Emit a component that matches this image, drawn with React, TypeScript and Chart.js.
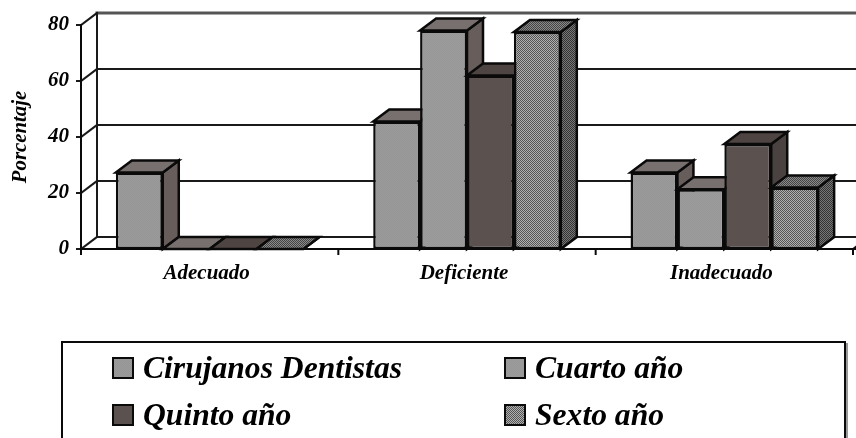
import React, { useEffect, useRef } from "react";
import { Chart, registerables } from "chart.js";

Chart.register(...registerables);

const categories = ["Adecuado", "Deficiente", "Inadecuado"];
const seriesNames = ["Cirujanos Dentistas", "Cuarto año", "Quinto año", "Sexto año"];
const cirujanos = [27.3, 45.5, 27.3];
const cuarto = [0, 78, 21.3];
const quinto = [0, 62, 37.5];
const sexto = [0, 77.5, 22];
const seriesValues = [cirujanos, cuarto, quinto, sexto];
const yTicks = [0, 20, 40, 60, 80];
const yTitle = "Porcentaje";

const FONT = '"Liberation Serif"';
const DX = 16;
const DY = -12;
const INK = "#0a0a0a";

// colour pairs of the dithered faces: front, top, side
const faces = [
  { front: ["#9b9b9b", "#959595"], top: ["#78706e", "#78706e"], side: ["#675d5b", "#675d5b"] },
  { front: ["#9c9c9c", "#979797"], top: ["#78706e", "#78706e"], side: ["#675d5b", "#675d5b"] },
  { front: ["#5b514e", "#5b514e"], top: ["#4e4543", "#4e4543"], side: ["#4a4240", "#4a4240"] },
  { front: ["#b0b0b0", "#555555"], top: ["#8a8a8a", "#444444"], side: ["#777777", "#333333"] },
];

function dither(pair: string[]): CanvasPattern | string {
  if (pair[0] === pair[1]) return pair[0];
  const c = document.createElement("canvas");
  c.width = 2;
  c.height = 2;
  const g = c.getContext("2d")!;
  g.fillStyle = pair[0];
  g.fillRect(0, 0, 2, 2);
  g.fillStyle = pair[1];
  g.fillRect(0, 0, 1, 1);
  g.fillRect(1, 1, 1, 1);
  return g.createPattern(c, "repeat")!;
}

const poly = (ctx: CanvasRenderingContext2D, pts: number[][], fill: any) => {
  ctx.beginPath();
  pts.forEach((p, i) => (i ? ctx.lineTo(p[0], p[1]) : ctx.moveTo(p[0], p[1])));
  ctx.closePath();
  ctx.fillStyle = fill;
  ctx.fill();
  ctx.stroke();
};

const wallPlugin = {
  id: "wall3d",
  beforeDatasetsDraw(chart: any) {
    const { ctx, scales, width } = chart;
    const x = scales.x;
    const y = scales.y;
    const left = x.left;
    const right = x.right;
    const base = y.getPixelForValue(0);
    ctx.save();
    ctx.strokeStyle = "#1a1a1a";
    ctx.lineWidth = 2;
    ctx.lineCap = "square";
    yTicks.forEach((v) => {
      const py = y.getPixelForValue(v);
      ctx.strokeStyle = v === 80 ? "#555555" : "#1a1a1a";
      ctx.lineWidth = v === 80 ? 3 : 2;
      ctx.beginPath();
      ctx.moveTo(left + DX, py + DY);
      ctx.lineTo(width + 2, py + DY);
      ctx.stroke();
      ctx.strokeStyle = "#1a1a1a";
      ctx.lineWidth = 2;
      ctx.beginPath();
      ctx.moveTo(left, py);
      ctx.lineTo(left + DX, py + DY);
      ctx.stroke();
      ctx.beginPath();
      ctx.moveTo(left - 4, py);
      ctx.lineTo(left, py);
      ctx.stroke();
    });
    ctx.beginPath();
    ctx.moveTo(left + DX, y.getPixelForValue(80) + DY);
    ctx.lineTo(left + DX, base + DY);
    ctx.stroke();
    ctx.strokeStyle = INK;
    ctx.beginPath();
    ctx.moveTo(left, y.getPixelForValue(80));
    ctx.lineTo(left, base + 5);
    ctx.stroke();
    ctx.beginPath();
    ctx.moveTo(left, base);
    ctx.lineTo(width + 2, base);
    ctx.stroke();
    const step = (right - left) / categories.length;
    categories.forEach((_, i) => {
      const tx = left + step * (i + 1);
      ctx.beginPath();
      ctx.moveTo(tx, base);
      ctx.lineTo(tx, base + 5);
      ctx.stroke();
    });
    ctx.beginPath();
    ctx.moveTo(right, base);
    ctx.lineTo(right + DX, base + DY);
    ctx.stroke();
    ctx.restore();
  },
  // the library's own painting runs right to left; the box faces need left to right
  beforeDatasetDraw() {
    return false;
  },
  afterDatasetsDraw(chart: any) {
    const { ctx } = chart;
    seriesValues.forEach((_, i) => {
      const meta = chart.getDatasetMeta(i);
      const top = dither(faces[i].top);
      const side = dither(faces[i].side);
      meta.data.forEach((bar: any) => {
        const half = bar.width / 2;
        const l = bar.x - half;
        const r = bar.x + half;
        const t = bar.y;
        const b = bar.base;
        ctx.save();
        ctx.strokeStyle = INK;
        ctx.lineWidth = 2.5;
        ctx.lineJoin = "miter";
        poly(ctx, [[r, t], [r + DX, t + DY], [r + DX, b + DY], [r, b]], side);
        poly(ctx, [[l, t], [l + DX, t + DY], [r + DX, t + DY], [r, t]], top);
        ctx.restore();
        bar.draw(ctx);
      });
    });
  },
  afterDraw(chart: any) {
    const { ctx } = chart;
    ctx.save();
    // legend frame, running off the bottom of the picture
    ctx.strokeStyle = INK;
    ctx.lineWidth = 2;
    ctx.beginPath();
    ctx.moveTo(62, 440);
    ctx.lineTo(62, 342);
    ctx.lineTo(845, 342);
    ctx.lineTo(845, 440);
    ctx.stroke();
    ctx.strokeStyle = "#999";
    ctx.beginPath();
    ctx.moveTo(847, 343);
    ctx.lineTo(847, 440);
    ctx.stroke();
    const xs = [113, 505];
    const ys = [358, 405];
    seriesNames.forEach((name, i) => {
      const cx = xs[i % 2];
      const cy = ys[Math.floor(i / 2)];
      ctx.fillStyle = dither(faces[i].front);
      ctx.strokeStyle = INK;
      ctx.lineWidth = 2;
      ctx.fillRect(cx, cy, 20, 20);
      ctx.strokeRect(cx, cy, 20, 20);
      ctx.font = `italic bold 31.6px ${FONT}`;
      ctx.textBaseline = "alphabetic";
      ctx.textAlign = "left";
      ctx.fillStyle = "#000";
      ctx.fillText(name, cx + 30, cy + 20);
    });
    ctx.restore();
  },
};

export default function App() {
  const ref = useRef<HTMLCanvasElement>(null);
  useEffect(() => {
    const chart = new Chart(ref.current!, {
      type: "bar",
      data: {
        labels: categories,
        datasets: seriesValues.map((data, i) => ({
          label: seriesNames[i],
          data,
          backgroundColor: dither(faces[i].front) as any,
          borderColor: INK,
          borderWidth: 2.5,
          borderSkipped: false,
          categoryPercentage: 0.729,
          barPercentage: 1,
        })),
      },
      options: {
        responsive: false,
        animation: false,
        layout: { padding: { left: 8, right: 3, top: 25, bottom: 0 } },
        plugins: { legend: { display: false }, tooltip: { enabled: false }, title: { display: false } },
        scales: {
          x: {
            grid: { display: false, drawTicks: false },
            border: { display: false },
            ticks: {
              color: "#000",
              padding: 12,
              labelOffset: -3,
              maxRotation: 0,
              font: { family: FONT, size: 21, style: "italic", weight: "bold" },
            },
            afterFit(s: any) {
              s.height = 189;
            },
          },
          y: {
            min: 0,
            max: 80,
            grid: { display: false, drawTicks: false },
            border: { display: false },
            ticks: {
              stepSize: 20,
              color: "#000",
              padding: 12,
              font: { family: FONT, size: 21, style: "italic", weight: "bold" },
            },
            title: {
              display: true,
              text: yTitle,
              color: "#000",
              padding: 0,
              font: { family: FONT, size: 20.8, style: "italic", weight: "bold" },
            },
            afterFit(s: any) {
              s.width = 73;
            },
          },
        },
      },
      plugins: [wallPlugin],
    } as any);
    return () => chart.destroy();
  }, []);
  return (
    <div style={{ position: "fixed", left: 0, top: 0, width: 856, height: 438, overflow: "hidden", background: "#fff" }}>
      <canvas ref={ref} width={856} height={438} style={{ display: "block" }} />
    </div>
  );
}
